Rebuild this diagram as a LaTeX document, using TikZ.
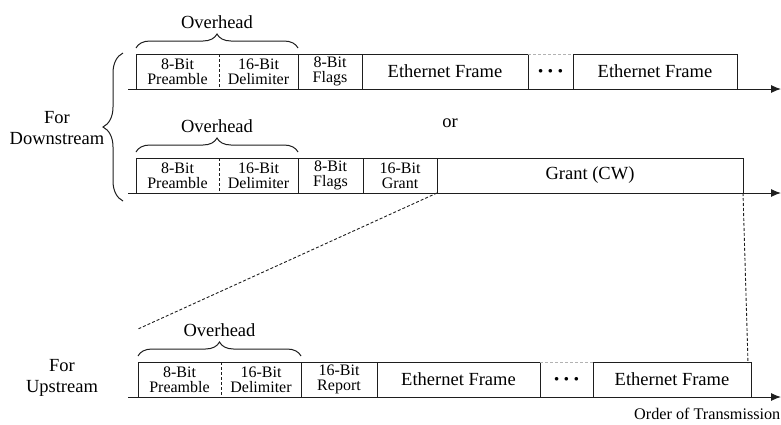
\documentclass[tikz,border=0pt]{standalone}
\usepackage{fontspec}
\setmainfont{Liberation Serif}
\usetikzlibrary{decorations.pathreplacing,arrows.meta,calc}
\definecolor{ln}{HTML}{1E1E1E}
\newcommand{\fdots}{\fontsize{9}{9}\selectfont$\bullet\hspace{3.2pt}\bullet\hspace{3.2pt}\bullet$}
\begin{document}
\begin{tikzpicture}[x=1pt,y=-1pt,
  fld/.style={inner sep=0pt, outer sep=0pt, anchor=south west, minimum height=35pt,
    align=center, font=\fontsize{16}{15}\selectfont, text=black},
  bigf/.style={font=\fontsize{18.5}{21}\selectfont},
  lbl/.style={align=center, inner sep=0pt, font=\fontsize{18.5}{21}\selectfont},
  box/.style={draw=ln, line width=1pt},
  brc/.style={draw=ln, line width=1pt, decorate, decoration={brace, amplitude=14pt}},
  bbrc/.style={draw=ln, line width=1pt, decorate, decoration={brace, amplitude=20pt}},
  ax/.style={draw=ln, line width=1pt, -{Latex[length=10pt,width=8pt]}},
  dsh/.style={draw=ln, line width=0.9pt, dash pattern=on 3pt off 2pt},
  topdsh/.style={draw=gray!60, line width=0.9pt, dash pattern=on 3pt off 2pt}]
\useasboundingbox (0,0) rectangle (781,424);

% ---------- Row 1 ----------
\node[fld, minimum width=83pt] (pa) at (136,89) {8-Bit\\Preamble};
\node[fld, minimum width=79pt] (da) at (pa.south east) {16-Bit\\Delimiter};
\node[fld, minimum width=64pt] (fa) at (da.south east) {8-Bit\\Flags};
\node[fld, bigf, minimum width=166pt] (ea) at (fa.south east) {Ethernet Frame};
\node[fld, minimum width=45pt] (xa) at (ea.south east) {\fdots};
\node[fld, bigf, minimum width=164pt] (ya) at (xa.south east) {Ethernet Frame};
\draw[box] (pa.south west) rectangle (da.north east);
\draw[dsh] (pa.north east) -- (pa.south east);
\draw[box] (fa.south west) rectangle (fa.north east);
\draw[box] (ea.south west) rectangle (ea.north east);
\draw[box] (xa.south west) -- (xa.north west) (xa.south east) -- (xa.north east);
\draw[topdsh] (xa.north west) -- (xa.north east);
\draw[box] (ya.south west) rectangle (ya.north east);
\coordinate (a1) at (128,89);
\coordinate (b1) at (781,89);
\draw[ax] (a1) -- (b1);
\draw[brc] ($(pa.north west)+(0,-6)$) -- ($(da.north east)+(0,-6)$);
\node[lbl] (oa) at ($(pa.north west)!0.5!(da.north east)+(0,-32)$) {Overhead};

% ---------- Row 2 ----------
\node[fld, minimum width=83pt] (pb) at (136,193) {8-Bit\\Preamble};
\node[fld, minimum width=79pt] (db) at (pb.south east) {16-Bit\\Delimiter};
\node[fld, minimum width=65pt] (fb) at (db.south east) {8-Bit\\Flags};
\node[fld, minimum width=74pt] (gb) at (fb.south east) {16-Bit\\Grant};
\node[fld, bigf, minimum width=306pt] (cw) at (gb.south east) {Grant (CW)};
\draw[box] (pb.south west) rectangle (db.north east);
\draw[dsh] (pb.north east) -- (pb.south east);
\draw[box] (fb.south west) rectangle (fb.north east);
\draw[box] (gb.south west) rectangle (gb.north east);
\draw[box] (cw.south west) rectangle (cw.north east);
\coordinate (a2) at (128,193);
\coordinate (b2) at (781,193);
\draw[ax] (a2) -- (b2);
\draw[brc] ($(pb.north west)+(0,-6)$) -- ($(db.north east)+(0,-6)$);
\node[lbl] (ob) at ($(pb.north west)!0.5!(db.north east)+(0,-32)$) {Overhead};

\node[lbl] (orl) at (450,123) {or};

% ---------- Row 3 ----------
\node[fld, minimum width=83pt] (pc) at (138,397) {8-Bit\\Preamble};
\node[fld, minimum width=80pt] (dc) at (pc.south east) {16-Bit\\Delimiter};
\node[fld, minimum width=76pt] (rc) at (dc.south east) {16-Bit\\Report};
\node[fld, bigf, minimum width=163pt] (ec) at (rc.south east) {Ethernet Frame};
\node[fld, minimum width=53pt] (xc) at (ec.south east) {\fdots};
\node[fld, bigf, minimum width=158pt] (yc) at (xc.south east) {Ethernet Frame};
\draw[box] (pc.south west) rectangle (dc.north east);
\draw[dsh] (pc.north east) -- (pc.south east);
\draw[box] (rc.south west) rectangle (rc.north east);
\draw[box] (ec.south west) rectangle (ec.north east);
\draw[box] (xc.south west) -- (xc.north west) (xc.south east) -- (xc.north east);
\draw[topdsh] (xc.north west) -- (xc.north east);
\draw[box] (yc.south west) rectangle (yc.north east);
\coordinate (a3) at (128,397);
\coordinate (b3) at (781,397);
\draw[ax] (a3) -- (b3);
\draw[brc] ($(pc.north west)+(0,-6)$) -- ($(dc.north east)+(0,-6)$);
\node[lbl] (oc) at ($(pc.north west)!0.5!(dc.north east)+(0,-32)$) {Overhead};

\node[inner sep=0pt, anchor=west, font=\fontsize{16.2}{16}\selectfont] (ot) at (634,414) {Order of Transmission};

% ---------- Side labels and brace ----------
\coordinate (bb) at (123,201);
\coordinate (bt) at (123,53);
\draw[bbrc] (bb) -- (bt);
\node[lbl] (dn) at (57,128) {For\\Downstream};
\node[lbl] (up) at (62,378) {For\\Upstream};

% ---------- Zoom lines ----------
\coordinate (zl) at (138,329);
\coordinate (zr) at (748,363);
\draw[dsh] (gb.south east) -- (zl);
\draw[dsh] (cw.south east) -- (zr);
\end{tikzpicture}
\end{document}
